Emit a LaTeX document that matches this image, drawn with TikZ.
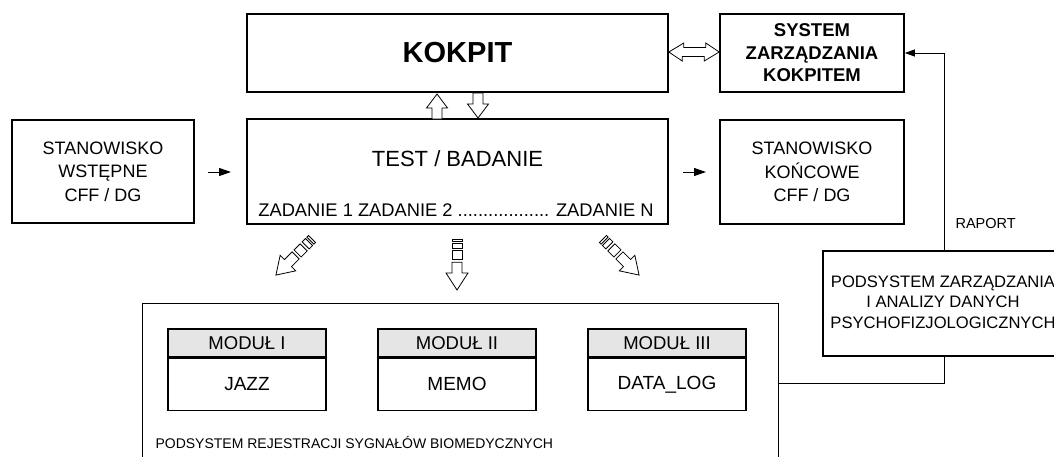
\documentclass[tikz,border=0pt]{standalone}
\usepackage{fontspec}
\setmainfont{Liberation Sans}
\usetikzlibrary{arrows.meta}

\tikzset{
  box/.style={draw, line width=1.6pt, inner sep=0pt, align=center},
  thinbox/.style={draw, line width=0.9pt, inner sep=0pt, align=center},
  modhead/.style={draw, line width=1.3pt, fill=black!10, inner sep=0pt,
    minimum width=158pt, minimum height=28pt, font=\fontsize{18.5}{21}\selectfont},
  modbody/.style={draw, line width=1.3pt, inner sep=0pt,
    minimum width=158pt, minimum height=52pt, font=\fontsize{19}{22}\selectfont},
  blockline/.style={draw, line width=0.8pt, fill=white, line join=miter},
  arr/.style={line width=0.9pt, -{Triangle[length=10pt,width=7pt]}},
  bigarr/.style={line width=1pt, -{Triangle[length=12pt,width=8pt]}},
  stripes/.pic={
    \draw[blockline] (0,-5) rectangle (2.3,5);
    \draw[blockline] (4.2,-5) rectangle (9,5);
    \draw[blockline] (11.8,-5) rectangle (20.4,5);
    \draw[blockline] (23.2,-5) -- (34,-5) -- (34,-11) -- (51,0)
      -- (34,11) -- (34,5) -- (23.2,5) -- cycle;
  }
}

\begin{document}
\begin{tikzpicture}[x=1pt,y=-1pt]
\useasboundingbox (0,0) rectangle (1054,456);
\clip (0,0) rectangle (1054,456);

% main blocks
\node[box, minimum width=421pt, minimum height=78pt,
  font=\bfseries\fontsize{29}{34}\selectfont] (kokpit) at (457.5,53) {KOKPIT};
\node[box, minimum width=184pt, minimum height=78pt,
  font=\bfseries\fontsize{18.5}{22.5}\selectfont] (sys) at (812,53)
  {SYSTEM\\ZARZĄDZANIA\\KOKPITEM};
\node[box, minimum width=182pt, minimum height=103pt,
  font=\fontsize{18}{23.5}\selectfont] (pre) at (103,171.5)
  {STANOWISKO\\WSTĘPNE\\CFF / DG};
\node[box, minimum width=421pt, minimum height=105pt] (test) at (457.5,171.5) {};
\node[font=\fontsize{22}{26}\selectfont] (testtitle) at (457.5,159) {TEST / BADANIE};
\node[font=\fontsize{18.3}{22}\selectfont] (tasks) at (456,210)
  {ZADANIE 1 ZADANIE 2 .................. ZADANIE N};
\node[box, minimum width=184pt, minimum height=104pt,
  font=\fontsize{18}{23.5}\selectfont] (post) at (812,172)
  {STANOWISKO\\KOŃCOWE\\CFF / DG};

% data analysis subsystem
\node[box, minimum width=242pt, minimum height=105pt] (anal) at (944,303.5) {};
\node[font=\fontsize{16.6}{20.5}\selectfont, align=center] (analtext) at (943,302)
  {PODSYSTEM ZARZĄDZANIA\\I ANALIZY DANYCH\\PSYCHOFIZJOLOGICZNYCH};
\node[anchor=west, font=\fontsize{14.5}{17}\selectfont] (raport) at (952,224) {RAPORT};

% biomedical signal recording subsystem
\node[thinbox, minimum width=636pt, minimum height=160pt] (rej) at (460,383) {};
\node[anchor=west, font=\fontsize{14}{16}\selectfont] (rejlabel) at (152,442)
  {PODSYSTEM REJESTRACJI SYGNAŁÓW BIOMEDYCZNYCH};

\node[modhead] (m1h) at (247,343) {MODUŁ I};
\node[modbody, anchor=north] (m1b) at (m1h.south) {JAZZ};
\node[modhead] (m2h) at (457,343) {MODUŁ II};
\node[modbody, anchor=north] (m2b) at (m2h.south) {MEMO};
\node[modhead] (m3h) at (667,343) {MODUŁ III};
\node[modbody, anchor=north] (m3b) at (m3h.south) {DATA\_LOG};

% flow arrows between stations
\coordinate (a1s) at (208,172);
\coordinate (a1e) at (231,172);
\coordinate (a2s) at (683,172);
\coordinate (a2e) at (706,172);
\draw[bigarr] (a1s) -- (a1e);
\draw[bigarr] (a2s) -- (a2e);

% report feedback loop
\draw[arr] (anal.north) |- (sys.east);
\draw[line width=0.9pt] (rej.east) -| (anal.south);

% block arrows: test <-> kokpit
\coordinate (up) at (437,119);
\coordinate (dn) at (478,93);
\draw[blockline] (up) ++(-5,0) -- ++(0,-11) -- ++(-5.5,0) -- ++(10.5,-14)
  -- ++(10.5,14) -- ++(-5.5,0) -- ++(0,11) -- cycle;
\draw[blockline] (dn) ++(-5,0) -- ++(0,11) -- ++(-5.5,0) -- ++(10.5,14)
  -- ++(10.5,-14) -- ++(-5.5,0) -- ++(0,-11) -- cycle;

% block arrow: kokpit <-> system
\draw[blockline] (kokpit.east |- 0,52) -- ++(15,-9) -- ++(0,4.5) -- ++(22,0)
  -- ++(0,-4.5) -- (sys.west |- 0,52) -- ++(-15,9) -- ++(0,-4.5) -- ++(-22,0)
  -- ++(0,4.5) -- cycle;

% striped arrows towards the recording subsystem
\pic[rotate=-135] at (312,239) {stripes};
\pic[rotate=-90] at (457,239) {stripes};
\pic[rotate=-45] at (603,239) {stripes};
\end{tikzpicture}
\end{document}
